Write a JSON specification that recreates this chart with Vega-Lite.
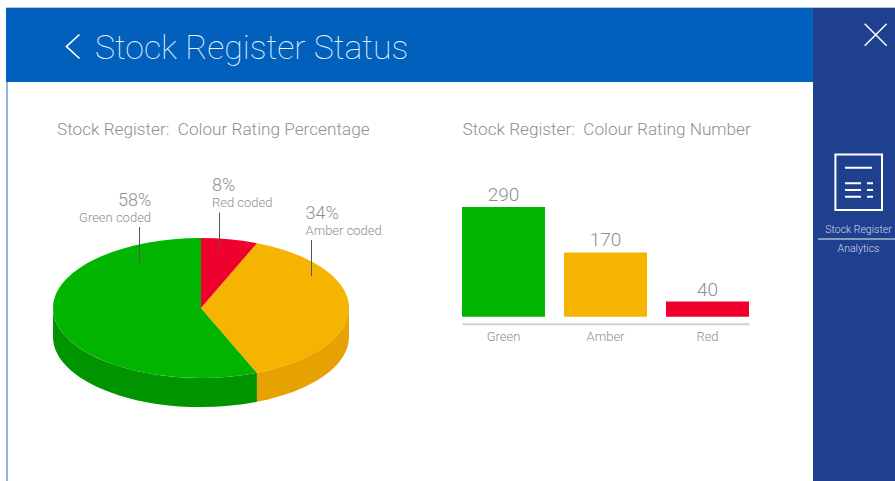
{
"$schema":"https://vega.github.io/schema/vega-lite/v6.json",
"padding":{"left":6,"top":7,"right":0,"bottom":0},
"background":"#ffffff",
"config":{"view":{"stroke":null},"font":"Roboto","text":{"font":"Roboto"}},
"datasets":{
 "rating":[
  {"colour":"Green","order":1,"percentage":58,"number":290,"pctLabel":"58%","codedLabel":"Green coded"},
  {"colour":"Red","order":2,"percentage":8,"number":40,"pctLabel":"8%","codedLabel":"Red coded"},
  {"colour":"Amber","order":3,"percentage":34,"number":170,"pctLabel":"34%","codedLabel":"Amber coded"}
 ],
 "faces":[
  {"chart":"pie","part":"Green side"},
  {"chart":"pie","part":"Amber side"},
  {"chart":"pie","part":"Green top"},
  {"chart":"pie","part":"Amber top"},
  {"chart":"pie","part":"Red top"}
 ]
},
"spacing":0,
"vconcat":[
 {"width":889,"height":1,"data":{"values":[{"part":"top edge"}]},"mark":{"type":"rect","color":"#b9c6dd"},"encoding":{}},
 {"spacing":0,
  "hconcat":[
   {"spacing":0,
    "vconcat":[
     {"width":807,"height":74,
      "title":{"text":"Stock Register Status","frame":"group","anchor":"start","orient":"top","offset":0,"baseline":"alphabetic","dx":89,"dy":85,"font":"Roboto","fontWeight":100,"fontSize":33.8,"color":"#eef4fb"},
      "data":{"values":[{"item":"back"}]},
      "layer":[
       {"mark":{"type":"rect","color":"#0060bb"},"encoding":{}},
       {"mark":{"type":"point","shape":"M0.54 -1L-0.54 0L0.54 1","filled":false,"opacity":1,"stroke":"#ffffff","strokeWidth":1.7,"size":576},
        "encoding":{
         "x":{"field":"item","type":"nominal","axis":null,"scale":{"type":"point","range":[67,67]}},
         "y":{"field":"item","type":"nominal","axis":null,"scale":{"type":"point","range":[38.5,38.5]}}}}
      ]},
     {"spacing":0,
      "resolve":{"scale":{"color":"independent","shape":"independent"}},
      "hconcat":[
       {"width":2,"height":399,"data":{"values":[{"part":"left edge"}]},"mark":{"type":"rect","color":"#8ab6e8"},"encoding":{}},
       {"width":432,"height":399,
        "title":{"text":"Stock Register:\u00a0 Colour Rating Percentage","frame":"group","anchor":"start","orient":"top","offset":0,"baseline":"alphabetic","dx":49,"dy":70,"font":"Roboto","fontWeight":300,"fontSize":17.2,"color":"#8f8f8f"},
        "resolve":{"scale":{"x":"independent","y":"independent"}},
        "layer":[
         {"data":{"name":"faces"},
          "mark":{"type":"point","filled":true,"opacity":1,"strokeWidth":0,"size":87616},
          "encoding":{
           "x":{"field":"chart","type":"nominal","axis":null,"scale":{"type":"point","range":[193,193]}},
           "y":{"field":"chart","type":"nominal","axis":null,"scale":{"type":"point","range":[226,226]}},
           "shape":{"field":"part","type":"nominal","legend":null,"scale":{
             "domain":["Green side","Amber side","Green top","Amber top","Red top"],
             "range":[
              "M0.378 0.438A1 0.473 0 0 1 -1 0L-1 0.196A1 0.473 0 0 0 0.378 0.634Z",
              "M1 0A1 0.473 0 0 1 0.378 0.438L0.378 0.634A1 0.473 0 0 0 1 0.196Z",
              "M0 0L0.378 0.438A1 0.473 0 1 1 0 -0.473Z",
              "M0 0L0.378 -0.438A1 0.473 0 0 1 0.378 0.438Z",
              "M0 0L0 -0.473A1 0.473 0 0 1 0.378 -0.438Z"]}},
           "color":{"field":"part","type":"nominal","legend":null,"scale":{
             "domain":["Green side","Amber side","Green top","Amber top","Red top"],
             "range":["#009400","#e6a200","#00b400","#f5b400","#f0002c"]}}}},
         {"data":{"name":"rating"},
          "mark":{"type":"point","shape":"M0 -1L0 1","filled":false,"opacity":1,"stroke":"#555555","strokeWidth":1,"size":1296},
          "encoding":{
           "x":{"field":"order","type":"quantitative","axis":null,"scale":{"domain":[1,2,3],"range":[131.5,211.5,303.5],"zero":false,"nice":false}},
           "y":{"field":"order","type":"quantitative","axis":null,"scale":{"domain":[1,2,3],"range":[163,148.5,176],"zero":false,"nice":false}}}},
         {"data":{"name":"rating"},
          "mark":{"type":"text","align":"left","baseline":"alphabetic","font":"Roboto","fontWeight":300,"fontSize":18,"color":"#8f8f8f"},
          "encoding":{
           "text":{"field":"pctLabel"},
           "x":{"field":"order","type":"quantitative","axis":null,"scale":{"domain":[1,2,3],"range":[110,204,297.5],"zero":false,"nice":false}},
           "y":{"field":"order","type":"quantitative","axis":null,"scale":{"domain":[1,2,3],"range":[124,109,137],"zero":false,"nice":false}}}},
         {"data":{"name":"rating"},
          "mark":{"type":"text","align":"left","baseline":"alphabetic","font":"Roboto","fontWeight":300,"fontSize":13,"color":"#8f8f8f"},
          "encoding":{
           "text":{"field":"codedLabel"},
           "x":{"field":"order","type":"quantitative","axis":null,"scale":{"domain":[1,2,3],"range":[71,204,297.5],"zero":false,"nice":false}},
           "y":{"field":"order","type":"quantitative","axis":null,"scale":{"domain":[1,2,3],"range":[140,125,153],"zero":false,"nice":false}}}}
        ]},
       {"width":373,"height":399,
        "title":{"text":"Stock Register:\u00a0 Colour Rating Number","frame":"group","anchor":"start","orient":"top","offset":0,"baseline":"alphabetic","dx":22.5,"dy":70,"font":"Roboto","fontWeight":300,"fontSize":17.2,"color":"#8f8f8f"},
        "data":{"name":"rating"},
        "encoding":{
         "x":{"field":"colour","type":"nominal","sort":["Green","Amber","Red"],"title":null,
          "scale":{"type":"band","range":[22,309],"paddingInner":0.186,"paddingOuter":0},
          "axis":{"orient":"bottom","offset":-157.3,"ticks":false,"labelAngle":0,"labelPadding":7,"labelFont":"Roboto","labelFontWeight":300,"labelFontSize":13,"labelColor":"#8f8f8f","domainColor":"#cfcfcf","domainWidth":2,"grid":false}},
         "y":{"field":"number","type":"quantitative","axis":null,"scale":{"domain":[0,290],"range":[234.7,125],"nice":false}}},
        "layer":[
         {"mark":{"type":"bar"},
          "encoding":{"color":{"field":"colour","type":"nominal","legend":null,"scale":{"domain":["Green","Amber","Red"],"range":["#00b400","#f5b400","#f0002c"]}}}},
         {"mark":{"type":"text","baseline":"alphabetic","dy":-6,"font":"Roboto","fontWeight":300,"fontSize":19,"color":"#8f8f8f"},
          "encoding":{"text":{"field":"number","type":"quantitative"}}}
        ]}
      ]}
    ]},
   {"width":82,"height":473,
    "resolve":{"scale":{"x":"independent","y":"independent"}},
    "layer":[
     {"data":{"values":[{"item":"panel"}]},"mark":{"type":"rect","color":"#1f3f8f"},"encoding":{}},
     {"data":{"values":[{"item":"close"}]},
      "mark":{"type":"point","shape":"M-1 -1L1 1M-1 1L1 -1","filled":false,"opacity":1,"stroke":"#ffffff","strokeWidth":1.5,"size":484},
      "encoding":{
       "x":{"field":"item","type":"nominal","axis":null,"scale":{"type":"point","range":[62.7,62.7]}},
       "y":{"field":"item","type":"nominal","axis":null,"scale":{"type":"point","range":[26.7,26.7]}}}},
     {"data":{"values":[{"item":"document"}]},
      "mark":{"type":"point","shape":"M-0.832 -0.993L0.832 -0.993L0.832 0.993L-0.832 0.993ZM-0.489 -0.518L0.475 -0.518M-0.489 0.039L0.082 0.039M0.296 0.039L0.511 0.039M-0.489 0.279L0.082 0.279M0.296 0.279L0.511 0.279M-0.489 0.518L0.082 0.518M0.296 0.518L0.511 0.518","filled":false,"opacity":1,"stroke":"#ffffff","strokeWidth":2,"size":3136},
      "encoding":{
       "x":{"field":"item","type":"nominal","axis":null,"scale":{"type":"point","range":[45.7,45.7]}},
       "y":{"field":"item","type":"nominal","axis":null,"scale":{"type":"point","range":[174.2,174.2]}}}},
     {"data":{"values":[{"item":"Stock Register"},{"item":"Analytics"}]},
      "mark":{"type":"text","baseline":"alphabetic","font":"Roboto","fontWeight":300,"fontSize":10.5,"color":"#d0d7e8"},
      "encoding":{
       "text":{"field":"item"},
       "x":{"field":"item","type":"nominal","axis":null,"scale":{"type":"point","range":[45.5,45.5]}},
       "y":{"field":"item","type":"nominal","axis":null,"sort":["Stock Register","Analytics"],"scale":{"type":"point","padding":0,"range":[224.7,244]}}}},
     {"data":{"values":[{"item":"divider","from":0,"to":1}]},
      "mark":{"type":"rule","color":"#aeb9d6","strokeWidth":1.5},
      "encoding":{
       "x":{"field":"from","type":"quantitative","axis":null,"scale":{"domain":[0,1],"range":[5,82]}},
       "x2":{"field":"to"},
       "y":{"field":"item","type":"nominal","axis":null,"scale":{"type":"point","range":[231,231]}}}}
    ]}
  ]}
]}
